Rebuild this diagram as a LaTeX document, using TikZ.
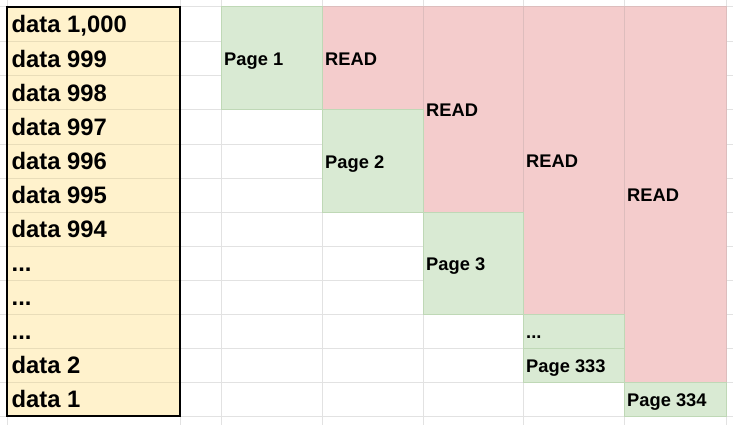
\documentclass[tikz,border=0pt]{standalone}
\usepackage{fontspec}
\setmainfont{Liberation Sans}
\definecolor{gridgray}{HTML}{E2E2E2}
\definecolor{cellgreen}{HTML}{D9EAD3}
\definecolor{greenline}{HTML}{BFD8B6}
\definecolor{cellred}{HTML}{F4CCCC}
\definecolor{redline}{HTML}{DDBDBD}
\definecolor{cellyellow}{HTML}{FFF2CC}
\definecolor{yellowline}{HTML}{E9DDB9}
\begin{document}
\begin{tikzpicture}[x=1pt,y=-1pt,
  gridline/.style={draw=gridgray,line width=1pt},
  pagecell/.style={fill=cellgreen,draw=greenline,line width=1pt},
  readcell/.style={fill=cellred,draw=redline,line width=1pt},
  datatxt/.style={anchor=base west,inner sep=0pt,font=\fontsize{23.8}{28}\selectfont\bfseries},
  celltxt/.style={anchor=base west,inner sep=0pt,font=\fontsize{18.3}{22}\selectfont\bfseries}]
\useasboundingbox (0,0) rectangle (733,425);
\fill[white] (0,0) rectangle (733,425);
\foreach \x in {7,180,221,322,423,523,624,726} \draw[gridline] (\x,0) -- (\x,425);
\foreach \y in {7,42,76,110,144,178,212,246,280,314,348,382,416} \draw[gridline] (0,\y) -- (733,\y);
% READ cells
\draw[readcell] (322,7) rectangle (423,110);
\draw[readcell] (423,7) rectangle (523,212);
\draw[readcell] (523,7) rectangle (624,314);
\draw[readcell] (624,7) rectangle (726,382);
% page cells
\draw[pagecell] (221,7) rectangle (322,110);
\draw[pagecell] (322,110) rectangle (423,212);
\draw[pagecell] (423,212) rectangle (523,314);
\draw[pagecell] (523,314) rectangle (624,348);
\draw[pagecell] (523,348) rectangle (624,382);
\draw[pagecell] (624,382) rectangle (726,416);
% data column
\fill[cellyellow] (7,7) rectangle (180,416);
\foreach \y in {42,76,110,144,178,212,246,280,314,348,382} \draw[yellowline,line width=1pt] (7,\y) -- (180,\y);
\draw[line width=2.2pt] (7,7) rectangle (180,416);
% data texts
\node[datatxt] (d1000) at (11.5,33) {data 1,000};
\node[datatxt] (d999) at (11.5,67.5) {data 999};
\node[datatxt] (d998) at (11.5,101.5) {data 998};
\node[datatxt] (d997) at (11.5,135.5) {data 997};
\node[datatxt] (d996) at (11.5,169.5) {data 996};
\node[datatxt] (d995) at (11.5,203.5) {data 995};
\node[datatxt] (d994) at (11.5,237.5) {data 994};
\node[datatxt] (dots1) at (11.5,271.5) {...};
\node[datatxt] (dots2) at (11.5,305.5) {...};
\node[datatxt] (dots3) at (11.5,339.5) {...};
\node[datatxt] (d2) at (11.5,373.5) {data 2};
\node[datatxt] (d1) at (11.5,407.5) {data 1};
% cell texts
\node[celltxt] (p1) at (224,65.7) {Page 1};
\node[celltxt] (r1) at (325,65.7) {READ};
\node[celltxt] (p2) at (325,168.2) {Page 2};
\node[celltxt] (r2) at (426,116.7) {READ};
\node[celltxt] (p3) at (426,270.2) {Page 3};
\node[celltxt] (r3) at (526,167.7) {READ};
\node[celltxt] (pdots) at (526,338.7) {...};
\node[celltxt] (p333) at (526,372.2) {Page 333};
\node[celltxt] (r4) at (627,201.7) {READ};
\node[celltxt] (p334) at (627,406.5) {Page 334};
\end{tikzpicture}
\end{document}
